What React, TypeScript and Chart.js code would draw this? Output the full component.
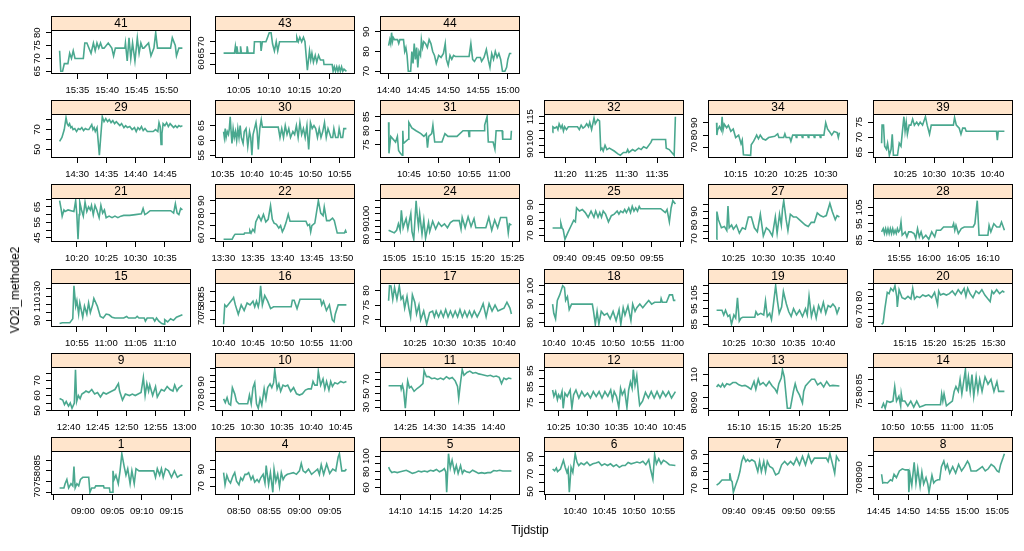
import { useEffect, useRef } from "react";
import { Chart, LineController, LineElement, PointElement, LinearScale } from "chart.js";

Chart.register(LineController, LineElement, PointElement, LinearScale);

const FAMILY = "'Liberation Sans', Arial, sans-serif";
Chart.defaults.font.family = FAMILY;
Chart.defaults.color = "#000";

// layout of the lattice (px)
const COL_X = [51, 215, 380, 544, 708, 873];
const ROW_Y = [16, 100, 184, 269, 353, 437];
const BOX_W = 140;
const STRIP_H = 14;
const PLOT_H = 44;
const YW = 30;
const XH = 26;
const RP = 18;
const TICK_FONT = 9.5;
const LINE = "#4aa88f";
const STRIP_BG = "#ffe5cc";
const PAD = 0.07;

// series: [minutes after start, VO2i]
const S41 = [[0,73],[0.2,65],[0.5,65],[0.8,68],[1.4,68],[1.7,72],[2.0,70],[2.3,73],[2.6,70],[4.0,70],[4.25,76],[4.6,76],[5.3,72],[5.7,76],[6.0,73],[6.3,76],[6.6,74],[6.9,76],[7.2,74],[7.5,74],[8.2,76],[8.8,74],[9.1,71],[9.4,74],[11.0,74],[11.1,76],[11.4,69],[11.7,78],[12.0,70],[12.3,76],[12.7,69],[13.1,78],[13.4,72],[13.7,76],[14.0,74],[14.2,74],[15.0,76],[15.4,71],[15.9,74],[16.2,80],[16.5,74],[18.7,74],[19.0,78],[19.5,75],[19.7,71],[20.1,74],[20.7,74]];
const S43 = [[0.5,65],[2.3,65],[2.45,68],[2.6,65],[2.7,68],[2.85,65],[3.25,65],[3.3,68],[3.45,65],[4.35,65],[4.4,68],[4.55,65],[5.5,65],[5.6,70],[6.6,70],[6.7,66],[6.9,70],[7.5,70],[8.05,74],[8.35,74],[8.6,69],[8.9,66],[9.2,70],[9.45,66],[9.75,70],[12.5,70],[12.6,72],[12.85,70],[13.1,72],[13.4,70],[13.7,72],[13.95,70],[14.35,57.5],[14.7,66],[14.9,62],[15.1,65],[15.35,61],[15.65,64],[15.9,61],[16.2,64],[16.5,62],[17.0,62],[17.1,60],[18.45,60],[18.6,57],[18.8,59],[19.0,57],[19.2,59],[19.4,57],[19.6,59],[19.8,57],[20.0,59],[20.2,57],[20.4,58],[20.8,57]];
const S44 = [[0,83],[0.2,86],[0.35,84],[0.5,89.5],[0.65,85],[0.8,87],[1.0,86],[1.5,86],[1.7,84],[1.9,86],[2.5,86],[2.7,80],[2.9,82],[3.1,78],[3.3,70],[3.7,70],[3.9,80],[4.1,74],[4.3,84],[4.5,76],[4.7,82],[4.9,72],[5.1,80],[5.35,78],[5.5,86],[5.7,82],[5.9,85],[6.2,84],[6.5,82],[6.8,86],[7.1,84],[7.4,80],[7.7,78],[8.0,74],[8.4,78],[8.8,77],[9.2,79],[9.5,84],[9.7,76],[10.0,73],[10.3,78],[10.6,76],[10.9,78],[11.2,77.5],[13.5,77.5],[13.8,84],[14.1,76],[14.4,75],[14.8,77],[15.4,77],[15.6,75],[16.0,77],[16.4,81],[16.7,76],[17.0,72],[17.3,79],[17.6,76],[17.9,80],[18.2,77],[18.5,79],[18.8,76],[19.1,70],[19.5,70],[19.8,72],[20.0,76],[20.3,79],[20.6,79]];
const S29 = [[0,58],[0.4,62],[0.8,70],[1.1,82],[1.3,76],[1.5,74],[1.7,76],[1.9,72],[2.1,73],[2.3,70],[2.6,71],[2.9,68],[3.2,71],[3.5,70],[3.8,72],[4.1,69],[4.4,71],[4.7,70],[5.0,70],[5.3,73],[5.5,75],[5.7,70],[5.9,72],[6.1,68],[6.4,72],[6.8,44],[7.0,60],[7.3,83],[7.6,78],[7.9,81],[8.2,78],[8.5,80],[8.8,77],[9.1,79],[9.4,76],[9.7,78],[10.0,76],[10.3,74],[10.6,76],[11.0,72],[11.3,74],[11.6,72],[12.0,73],[12.4,70],[12.8,72],[13.1,68],[13.4,72],[13.7,70],[14.0,73],[14.3,69],[14.6,71],[15.0,68],[16.0,68],[16.4,70],[16.8,68],[17.0,77],[17.2,73],[17.35,55],[17.5,66],[17.7,76],[18.0,74],[18.3,77],[18.6,73],[18.9,76],[19.2,74],[19.5,72],[19.8,74],[20.1,72],[20.4,74],[20.7,73],[21.0,74]];
const S30 = [[0.17,63],[0.3,61],[0.45,64],[0.6,61],[0.8,63],[1.0,62],[1.15,64],[1.3,68],[1.45,63],[1.6,59],[1.8,64],[2.0,61],[2.2,63],[2.4,60],[2.6,64],[2.8,61],[3.0,65],[3.2,61],[3.5,59],[3.7,63],[4.0,64],[4.3,58],[4.6,63],[4.8,61],[5.0,55],[5.2,62],[5.45,64],[5.7,66],[5.9,63],[6.1,57],[6.35,64],[6.6,67],[6.8,64.5],[9.5,64.5],[9.8,61],[10.1,64],[10.4,61],[10.7,65],[11.0,62],[11.3,64],[11.6,61],[12.0,63],[12.3,62],[12.6,65],[12.9,61],[13.2,66],[13.5,62],[13.8,64],[14.1,61],[14.4,65],[14.7,57],[15.0,66],[15.3,64],[15.6,65],[15.9,64],[16.2,61],[16.5,64],[16.8,61],[17.1,63],[17.4,66],[17.7,61],[18.0,64],[18.5,61],[18.8,61],[19.0,64],[19.3,61],[19.7,61],[19.9,64],[20.2,61],[20.5,61],[20.7,64],[21.14,64]];
const S31 = [[0.64,83],[0.7,72],[1.0,78],[1.8,76],[2.1,78],[2.3,73],[2.6,72],[2.9,71.3],[3.0,80],[3.1,75.5],[3.9,77],[4.0,83],[4.5,81],[5.2,80],[6.0,79],[6.5,78],[6.9,79],[7.1,74],[7.3,78],[7.8,79],[8.0,82],[8.3,76],[9.5,76],[10.0,79],[10.5,78],[12.0,78],[13.0,80],[13.9,80],[14.0,78],[14.1,80],[16.5,80],[16.6,82],[17.0,85],[17.2,76],[18.0,76],[18.3,73.5],[18.5,80],[19.5,80],[19.6,77],[20.95,77],[21.04,80]];
const S32 = [[0.93,104],[0.98,108],[1.3,107],[1.6,108],[1.8,106],[2.0,110],[2.3,107],[2.5,109],[2.7,105],[2.9,108],[3.2,106],[3.5,108],[5.0,108],[5.3,106],[5.6,109],[5.9,107],[6.2,108],[6.5,110],[6.8,108],[7.0,111],[7.3,106],[7.6,112],[7.7,114],[7.9,110],[8.3,113],[8.6,112],[8.8,92],[9.0,93],[9.2,91],[9.5,95],[9.8,92],[10.2,93],[11.0,91],[11.6,89],[12.0,88],[12.5,90],[13.0,90],[13.2,92],[13.4,90],[14.0,92],[14.4,91],[15.0,93],[15.4,92],[15.8,94],[16.3,93],[17.0,97],[17.2,99],[19.4,99],[19.5,93],[20.0,92],[20.8,88],[21.0,115]];
const S34 = [[0.83,90],[0.88,80],[1.0,84],[1.3,87],[1.6,84],[1.75,95],[1.9,84],[2.1,89],[2.5,86],[2.8,88],[3.2,83],[3.6,85],[4.0,78],[4.5,80],[4.9,73],[5.1,76],[5.3,64],[6.5,63.5],[6.6,72],[7.0,75],[7.3,78],[7.5,80],[7.8,77],[8.1,80],[8.5,77],[9.0,76],[9.5,78],[10.5,79],[11.0,81],[11.2,78],[12.0,78],[12.2,81],[12.4,78],[13.0,78],[13.2,75],[13.5,80],[14.0,80],[14.1,78],[14.2,80],[15.0,80],[15.1,78],[15.2,80],[16.0,80],[16.1,78],[16.2,80],[17.0,80],[17.1,78],[17.2,80],[18.0,80],[18.1,78],[18.2,80],[18.7,80],[19.0,90],[19.3,85],[19.6,83],[20.0,80],[20.4,83],[20.9,82],[21.1,78],[21.28,82]];
const S39 = [[0.97,68],[1.05,74],[1.3,74],[1.5,67],[1.8,66],[2.0,68],[2.3,64],[2.6,66],[2.8,71],[3.0,64],[3.7,64],[4.0,68],[4.3,67],[4.5,71],[4.8,76.8],[5.0,72],[5.2,75],[5.4,71],[5.7,74],[6.0,74],[6.3,76],[6.6,74],[7.0,75],[7.3,74],[7.6,75],[8.0,74],[8.5,76.8],[8.8,74],[9.2,71],[9.5,74],[13.3,74],[13.5,76.5],[13.8,74],[14.3,73],[14.6,71],[14.9,73],[15.3,73],[15.5,72],[20.7,72],[20.85,69],[21.0,72],[22.06,72]];
const S21 = [[0.06,69],[0.3,64],[0.5,59],[0.8,63],[1.0,62],[1.5,63],[2.5,62],[2.8,69],[3.0,60],[3.2,44],[3.4,60],[3.5,68],[3.8,63],[4.1,59],[4.4,68],[4.7,62],[5.0,65],[5.3,63],[5.5,66],[5.8,60],[6.1,66],[6.4,63],[6.8,58],[7.1,66],[7.4,61],[7.7,63],[8.0,58],[8.5,59],[9.0,58],[9.5,59],[10.0,58],[10.5,59],[11.0,59.5],[12.0,59.5],[13.0,60],[14.0,60.5],[14.3,64],[14.6,60],[15.0,61],[15.5,62.5],[19.0,62.5],[19.5,61],[19.8,67],[20.1,61],[20.4,60],[20.7,64],[21.0,63]];
const S22 = [[0.05,59],[1.5,59],[1.7,61],[1.9,62.5],[2.0,63],[3.5,63],[3.6,64],[4.4,64],[4.5,66],[4.7,64],[5.0,67],[5.3,65],[5.5,73],[6.0,78],[6.4,74],[6.8,79],[7.2,73],[7.6,75],[8.0,86],[8.3,75],[8.6,72],[9.0,71],[9.4,68],[9.7,70],[10.0,65],[10.3,68],[10.6,72],[11.0,79],[11.3,73.5],[14.0,73.5],[14.3,70],[14.6,71],[14.8,65],[15.0,70],[15.5,72],[16.1,90],[16.5,80],[16.9,78],[17.1,85],[17.5,74],[18.0,74],[18.5,76],[18.8,74],[19.0,70],[19.3,64],[20.5,64],[20.7,66],[20.85,64]];
const S24 = [[0.04,87],[0.5,86],[1.0,85],[1.4,87],[1.7,92],[2.0,87],[2.2,102.5],[2.5,89],[2.7,92],[3.0,96],[3.3,88],[3.5,93],[3.8,100],[4.0,86],[4.3,80],[4.5,95],[4.7,110],[4.9,98],[5.1,90],[5.3,100],[5.7,84],[6.0,95],[6.3,81],[6.6,88],[6.8,93],[7.0,86],[7.5,94],[8.0,88],[8.5,93],[9.0,90],[9.5,92],[10.0,89],[10.5,93],[11.0,94.5],[12.0,94.5],[12.3,88],[12.5,97],[13.0,89],[13.5,97.5],[14.0,90],[14.5,96],[14.8,89],[16.5,89],[17.0,97],[17.5,87],[18.0,95],[18.5,89],[19.0,97],[20.0,97],[20.3,85],[20.5,92],[20.83,91]];
const S25 = [[0.87,75],[2.2,75],[2.3,78],[2.5,75],[2.7,74],[3.0,67.7],[3.5,72],[4.0,76],[4.5,80],[4.8,79],[5.0,88],[5.5,86],[6.0,87],[6.5,85],[7.0,82],[7.5,86],[8.0,82],[8.3,86],[8.7,82],[9.0,85],[9.3,82],[9.6,86],[10.0,84],[10.5,79],[11.0,83],[11.5,84],[12.0,86],[12.3,84],[12.6,86],[13.0,85],[13.3,87],[13.6,85],[14.0,88],[14.3,85],[14.6,89],[14.9,86],[15.2,88],[15.5,86],[15.8,89],[16.0,87.5],[19.5,87.5],[20.0,86],[20.3,85],[20.6,87],[21.0,79],[21.3,88],[21.6,92.7],[22.04,90.5]];
const S27 = [[0.2,69.5],[0.25,90],[0.5,84],[1.0,78],[1.5,79],[1.9,76],[2.1,94],[2.3,78],[2.7,80],[3.0,77],[3.5,80],[4.0,74],[4.5,78],[5.0,77],[5.5,86],[6.0,86],[6.5,78],[7.0,75],[7.5,88],[8.0,72],[8.5,78],[9.0,76],[9.5,72],[10.0,86],[10.3,74],[10.7,88],[11.0,80],[11.2,92],[11.4,98],[11.8,84],[12.1,76],[12.5,88],[13.0,86],[13.5,86],[14.0,84],[14.5,82],[15.0,80],[15.5,79],[16.0,82],[16.5,82],[17.0,89],[17.5,87],[18.0,86],[18.5,87],[19.1,96],[19.5,90],[20.0,84],[20.3,87],[20.69,86]];
const S28 = [[0.02,90],[0.3,92],[0.5,89],[0.7,92],[0.9,89],[1.1,92],[1.3,89],[1.5,92],[1.7,89],[1.9,92],[2.1,89],[2.3,91],[2.5,89],[2.7,92],[2.9,90],[3.1,91],[3.3,96],[3.5,88],[4.0,90],[4.3,87],[4.6,90],[5.0,90],[5.5,89],[5.8,86],[6.1,92],[6.4,87],[6.7,90],[7.0,86],[7.5,88],[8.0,85.5],[8.5,90],[9.0,87],[9.3,91],[10.0,91],[10.5,93],[12.0,93],[12.2,95],[12.4,91],[12.6,94],[13.0,89],[13.5,92],[14.0,93],[15.5,93],[15.8,95],[16.2,109],[16.5,88],[18.0,88],[18.2,94],[18.5,90],[19.0,95],[19.5,93],[20.0,93],[20.3,96],[20.79,91]];
const S15 = [[0.05,86],[0.5,87],[1.8,87],[2.0,89],[2.3,92],[2.5,134],[2.8,108],[3.0,115],[3.3,98],[3.5,112],[4.0,94],[4.3,108],[4.7,98],[5.0,112],[5.3,100],[5.7,110],[5.9,118],[6.5,108],[7.0,95],[7.5,93],[8.0,98],[8.5,97],[9.0,94],[9.5,93],[11.0,93],[11.5,95],[11.8,93],[13.0,93],[13.3,95],[13.6,93],[14.5,93],[14.7,89],[15.0,93],[16.0,93],[16.3,89],[16.6,93],[17.0,89],[17.5,86],[17.9,85],[18.0,91],[18.5,88],[19.0,92],[19.5,90],[20.0,94],[21.02,97]];
const S16 = [[0,67.6],[0.2,78],[0.5,77],[1.0,79],[1.5,81],[1.7,82],[2.0,78],[2.5,73],[3.0,78],[3.5,75],[4.0,79],[4.5,78],[5.0,80],[5.3,77],[5.6,80],[5.9,77],[6.1,80],[6.3,88.3],[6.6,78],[7.0,83],[7.5,80],[8.0,76],[8.5,77],[9.0,77],[11.5,77],[11.7,80.5],[12.0,80.5],[12.5,76],[13.0,81],[16.5,81],[16.7,78],[17.0,80],[17.5,75],[18.0,78],[18.5,70],[18.8,69],[19.0,73],[19.5,78],[20.9,78]];
const S17 = [[0.6,76.5],[0.75,81.6],[1.0,81.5],[1.3,77],[1.6,81],[2.0,77],[2.4,81.5],[2.7,77],[3.0,78],[3.3,74],[3.7,78],[4.0,74],[4.3,71],[4.6,78.5],[5.0,76],[5.3,72],[5.7,75],[6.0,70],[6.5,73],[7.0,68.5],[7.5,72.5],[8.0,73],[8.3,71],[8.6,73],[9.0,71],[9.4,73],[9.8,71],[10.2,73.5],[10.6,71],[11.0,73],[11.4,71],[11.8,73],[12.2,71],[12.6,73.5],[13.0,71],[13.4,73],[13.8,71],[14.2,73],[14.6,71],[15.0,73],[15.5,71],[16.0,73],[16.5,75.5],[17.0,71],[17.5,75.5],[18.0,73],[18.5,75],[19.0,73],[19.5,73.5],[20.0,74],[20.5,76],[21.0,74],[21.25,72]];
const S18 = [[0.8,90],[1.0,85],[1.3,82],[1.6,92],[2.0,95],[2.3,98],[2.5,100],[2.8,99],[3.0,92],[3.3,94],[3.6,87],[4.0,90],[7.5,90],[7.7,86],[8.0,79],[8.3,86],[8.6,79],[9.0,86],[9.5,84],[10.0,85],[10.5,82],[11.0,86],[11.5,81],[12.0,87],[12.3,79],[12.7,88],[13.0,84],[13.5,89],[14.0,81],[14.3,90],[14.7,86],[15.0,88],[15.5,90],[16.0,88],[16.5,90],[17.0,92],[17.5,90],[18.0,91],[19.0,91],[19.1,93],[19.3,91],[20.0,91],[20.5,95],[21.0,95],[21.2,92],[21.5,92]];
const S19 = [[0.1,94],[1.0,94],[1.3,91],[1.6,94],[2.0,90],[2.3,91],[2.6,85],[3.0,91],[3.3,89],[3.6,102],[3.9,87],[4.2,89],[4.5,89.5],[6.5,89.5],[6.7,93],[7.0,91],[7.5,92],[8.0,91],[8.3,100],[8.6,90],[9.0,92],[9.3,88],[9.6,97],[10.0,109.7],[10.3,100],[10.6,92],[11.0,96],[11.3,106],[11.8,98],[12.2,93],[12.6,90],[13.0,95],[13.5,91],[14.0,94],[14.5,90],[15.0,95],[15.3,91],[15.6,103],[16.0,90],[16.4,96],[16.8,89],[17.2,97],[17.6,93],[18.0,99],[18.4,92],[18.8,97],[19.2,96],[19.6,98],[20.0,96],[20.3,92],[20.69,96]];
const S20 = [[0.04,59],[0.3,60],[0.6,71],[1.0,83],[1.3,82],[1.6,86],[2.0,84],[2.3,88],[2.6,80],[2.7,72],[3.0,85],[3.5,79],[4.0,78],[4.5,80],[5.0,78],[5.3,86],[5.6,78],[6.0,80],[6.5,79],[7.0,81],[7.5,80],[8.0,81],[8.5,79],[9.0,83],[9.5,74],[9.7,84],[10.0,81],[10.5,82],[11.0,81],[11.5,82],[12.0,84],[12.5,81],[13.0,85],[13.5,82],[14.0,86],[14.3,80],[14.6,86],[15.0,82],[15.5,79],[16.0,84],[16.5,82],[17.0,85],[17.5,81],[18.4,76],[18.7,84],[19.0,82],[19.5,85],[20.0,82],[20.5,84],[20.81,83]];
const S9 = [[0.46,58],[1.0,57],[1.3,54],[1.6,56],[2.0,53],[2.3,55],[2.6,51.5],[3.0,55],[3.2,77.2],[3.4,56],[3.7,60],[4.0,58],[4.3,61],[4.7,62],[5.0,63],[5.5,62],[6.0,64],[6.5,61],[7.0,62],[7.5,59],[8.0,62],[8.5,61],[9.0,62],[9.5,63],[10.0,64],[10.6,68],[10.8,63],[11.3,57],[11.8,61],[12.5,60],[13.0,61],[13.5,60],[14.0,61],[14.5,62],[14.9,72],[15.2,60],[15.5,68],[15.8,63],[16.0,67],[16.5,60],[17.0,66],[17.3,59],[17.7,62],[18.0,64],[18.5,63],[19.0,66],[19.5,64],[20.0,63],[20.3,67],[20.7,63],[21.0,65],[21.63,67]];
const S10 = [[0.11,76],[0.4,73],[0.7,77],[1.0,72],[1.3,71],[1.6,85],[2.0,80],[2.3,74],[2.7,72],[3.5,72],[4.2,72],[4.5,79],[4.8,72],[5.1,85],[5.4,89],[5.7,72],[6.0,68.4],[6.3,76],[6.6,71],[7.0,84],[7.3,76],[7.6,85],[8.0,88],[8.3,85],[8.6,89],[8.8,99.4],[9.2,84],[9.5,88],[9.8,82],[10.2,87],[10.6,86],[11.0,87],[11.5,82],[12.0,85],[12.5,80],[13.0,79],[13.5,80],[14.0,83],[14.5,84],[15.0,84],[15.3,90],[15.6,87],[16.0,87],[16.2,98],[16.6,87],[17.0,92],[17.3,84],[17.6,90],[18.0,83],[18.3,90],[18.6,86],[19.0,89],[19.5,88],[20.0,90],[20.5,89],[20.97,90]];
const S11 = [[0.15,61],[2.2,61],[2.3,56],[2.5,62],[2.7,55],[3.0,28.6],[3.2,50],[3.4,68],[3.7,58],[4.0,60],[4.5,53],[5.0,57],[5.5,60],[6.0,64],[6.2,82.6],[6.6,74],[7.0,74],[7.5,71],[8.0,72],[8.5,70],[9.0,72],[9.5,70],[10.0,74],[10.5,71],[11.0,73],[11.5,68],[11.9,60],[12.1,43],[12.4,65],[12.7,84],[13.0,76],[13.5,80],[14.0,82],[14.5,79],[15.0,80],[15.5,78],[16.0,77],[16.5,76],[17.0,75],[17.5,76],[18.0,74],[18.5,75],[19.0,73],[19.4,64],[19.8,72],[20.2,70],[20.6,72],[21.08,71]];
const S12 = [[0.97,83],[1.2,79],[1.5,82],[1.8,77],[2.0,80],[2.3,78],[2.6,82],[2.8,71.6],[3.1,81],[3.5,79],[4.0,83],[4.3,71.6],[4.6,80],[5.0,83],[5.5,78],[6.0,82],[6.5,79],[7.0,81],[7.5,78],[8.0,82],[8.5,79],[9.0,82],[9.5,78],[10.0,82],[10.5,79],[11.0,83],[11.3,77],[11.6,82],[12.0,79],[12.4,72],[12.7,84],[13.0,80],[13.4,83],[13.8,72],[14.1,83],[14.4,88],[14.7,84],[14.9,95.6],[15.2,86],[15.5,92],[15.8,80],[16.0,73.5],[16.5,76],[17.0,81.5],[17.5,78],[18.0,82],[18.5,78],[19.0,82],[19.5,78],[20.0,82],[20.5,79],[21.0,82],[21.5,78],[22.17,82]];
const S13 = [[0.32,99],[0.6,101],[1.0,99],[1.3,102],[1.6,99],[2.0,102],[2.5,101],[3.0,103],[3.5,103],[4.0,101],[4.5,100],[5.0,100.5],[5.5,99],[6.0,97],[6.5,104],[6.8,97],[7.2,106],[7.5,101],[8.0,103],[8.5,100],[9.0,104],[9.5,100],[10.0,97],[10.3,94],[10.6,102],[11.0,107],[11.2,114.5],[11.5,108],[11.8,91],[12.0,80],[12.5,80],[13.0,95],[13.3,102],[13.6,96],[14.0,92],[14.5,84.7],[14.7,95],[15.0,100],[15.5,103],[16.0,106],[16.5,106],[17.0,101],[17.5,103],[18.0,99],[18.5,104],[19.0,100],[19.5,100.5],[20.6,100]];
const S14 = [[0.09,73],[0.4,75],[0.7,73],[1.0,76],[1.5,75.5],[2.0,76],[2.3,82],[2.6,76],[3.0,78],[3.3,74],[3.4,79],[3.6,76],[4.0,76],[4.5,74],[5.0,76],[5.5,73.5],[6.0,76],[6.5,73.5],[7.0,74],[7.5,74.5],[10.0,74.5],[10.2,79],[10.4,76],[10.6,79],[11.0,74],[11.5,75],[12.0,76],[12.3,80],[12.6,82],[13.0,80],[13.3,85],[13.6,79],[14.2,89],[14.4,80],[14.7,86],[15.0,80],[15.3,87],[15.6,78],[16.0,86],[16.3,80],[16.6,85],[17.0,80],[17.5,86],[18.0,83],[18.5,85],[19.0,80],[19.5,84],[19.8,80],[20.76,80]];
const S1 = [[0.07,72],[0.8,72],[1.0,74],[1.3,76],[1.6,72],[2.0,74],[2.3,73],[2.5,82],[2.7,72],[3.0,74],[3.3,73],[3.6,76],[4.0,77],[5.0,77],[5.2,70],[5.5,72],[6.0,72],[6.2,73],[7.5,73],[7.6,72],[8.5,72],[8.6,70],[9.0,70],[9.1,80],[9.3,76],[9.6,78],[10.0,74],[10.3,80],[10.6,88],[11.0,82],[11.3,78],[11.6,81],[12.0,74],[12.3,80],[12.7,74],[13.0,81],[13.5,80],[16.0,80],[16.3,77],[16.6,81],[17.0,78],[17.3,81],[17.6,77],[18.0,81],[18.5,80],[19.0,77],[19.5,80],[20.0,77],[20.5,78],[20.85,78]];
const S4 = [[0.46,86],[0.7,72],[1.0,83],[1.3,77],[1.6,74],[2.0,82],[2.3,86],[2.6,76],[3.0,72],[3.3,80],[3.6,77],[4.0,84],[4.3,84],[4.6,86],[5.0,78],[5.3,82],[5.6,75],[6.0,78],[6.3,75],[6.6,80],[7.0,84],[7.3,74],[7.5,94],[7.9,72],[8.2,86],[8.6,63.3],[8.8,90],[9.1,76],[9.4,84],[9.7,70],[10.0,86],[10.3,78],[10.6,82],[11.0,84],[11.5,85],[12.0,86],[12.5,84],[13.0,88],[13.3,96.7],[13.6,88],[14.0,86],[14.5,90],[15.0,84],[15.5,87],[16.0,90],[16.3,84],[16.6,95],[17.0,84],[17.5,96],[18.0,85],[18.5,90],[19.0,88],[19.4,104],[19.6,107.8],[20.0,88],[20.5,88],[20.76,90]];
const S5 = [[0.06,86],[0.3,82],[0.6,79],[1.0,80],[1.5,79],[2.0,80],[2.5,81],[3.0,82],[3.5,80],[4.0,78],[4.5,79],[5.0,81],[5.5,80],[6.0,81],[6.5,80],[7.0,82],[7.5,81],[8.0,83],[8.5,80],[9.0,82],[9.3,84],[9.55,80],[9.7,54],[10.0,103],[10.3,85],[10.6,94.8],[11.0,80],[11.3,88],[11.6,78],[12.0,88],[12.3,78],[12.6,82],[13.0,80],[13.5,79],[14.0,82],[14.5,80],[15.0,78],[15.5,79],[16.0,78],[16.5,79],[17.0,79],[17.5,81.6],[18.0,81],[18.5,82],[19.0,81],[20.44,81]];
const S6 = [[0.16,76],[0.5,74],[0.8,77],[1.0,73],[1.5,76],[2.0,86],[2.3,78],[2.6,72],[2.8,76],[3.0,49],[3.3,78],[3.6,72],[4.0,93.7],[4.3,84],[4.6,80],[5.0,83],[5.5,81],[6.0,84],[6.5,80],[7.0,82],[7.5,83],[8.0,84.2],[8.5,80],[9.0,82],[9.5,80],[10.0,82],[10.5,79],[11.0,81],[11.5,77.9],[12.0,80],[12.5,80],[13.0,83.5],[13.5,82],[14.0,83],[14.5,84],[15.0,83],[15.5,85],[16.0,81],[16.5,86.8],[16.8,76],[17.2,64.4],[17.5,92.8],[17.8,82],[18.2,88],[18.6,82],[19.0,86],[19.5,84],[20.0,81],[21.03,80]];
const S7 = [[0.09,72],[0.5,73],[1.0,75],[2.2,75],[2.3,79],[2.5,75],[2.7,74],[2.9,67.7],[3.3,72],[3.7,76],[4.0,80],[4.3,86],[4.6,89],[5.0,86],[5.3,87.2],[5.6,86],[6.0,87],[6.5,86],[7.0,80],[7.3,86],[7.6,80],[8.0,86],[8.3,80],[8.6,86],[9.0,83],[9.5,82],[10.0,78],[10.5,79],[11.0,84],[11.5,86],[12.0,84],[12.5,86],[13.0,84],[13.5,88],[14.0,84],[14.5,89],[15.0,84],[15.5,90],[16.0,85],[16.5,88],[18.5,88],[18.8,86],[19.1,90.6],[19.5,85],[19.9,79],[20.2,89],[20.69,86]];
const S8 = [[0.5,83],[0.7,75],[1.0,75.5],[1.5,75],[2.0,78],[2.3,77],[2.6,83],[3.0,80],[3.5,86],[4.0,88],[4.5,87],[5.0,87],[5.1,66.5],[5.3,83],[5.6,73],[6.0,94],[6.3,75],[6.6,88],[7.0,72],[7.3,85],[7.6,74],[8.0,80],[8.3,74],[8.5,66.5],[9.0,82],[9.3,75],[9.6,77],[10.0,78],[10.3,78],[10.6,90],[11.0,95],[11.3,88],[11.6,92],[12.0,84],[12.5,90],[13.0,84],[13.5,92],[14.0,86],[14.5,90],[15.0,95],[15.3,92],[15.6,86],[16.0,86],[16.5,86],[17.0,88],[17.5,90],[18.0,86],[18.5,88],[19.0,92],[19.5,90],[20.0,86],[20.3,85],[20.6,92],[21.0,98],[21.23,101.8]];

type Panel = {
  id: string;
  start: string;
  series: number[][];
  yTicks: number[];
  yShow: number[];
  hide?: string[];
};

const PANELS: Panel[] = [
  { id: "41", start: "15:32", series: S41, yTicks: [65, 70, 75, 80], yShow: [65, 70, 75, 80] },
  { id: "43", start: "10:02", series: S43, yTicks: [60, 65, 70], yShow: [60, 65, 70] },
  { id: "44", start: "14:40", series: S44, yTicks: [70, 80, 90], yShow: [70, 80, 90] },
  { id: "29", start: "14:27", series: S29, yTicks: [50, 60, 70, 80], yShow: [50, 70] },
  { id: "30", start: "10:35", series: S30, yTicks: [55, 60, 65], yShow: [55, 60, 65] },
  { id: "31", start: "10:41", series: S31, yTicks: [75, 80, 85], yShow: [75, 80, 85] },
  { id: "32", start: "11:17", series: S32, yTicks: [90, 95, 100, 105, 110, 115], yShow: [90, 100, 115] },
  { id: "34", start: "10:11", series: S34, yTicks: [70, 80, 90], yShow: [70, 80, 90] },
  { id: "39", start: "10:20", series: S39, yTicks: [65, 70, 75], yShow: [65, 70, 75] },
  { id: "21", start: "10:17", series: S21, yTicks: [45, 50, 55, 60, 65, 70], yShow: [45, 55, 65] },
  { id: "22", start: "13:30", series: S22, yTicks: [60, 70, 80, 90], yShow: [60, 70, 80, 90] },
  { id: "24", start: "15:04", series: S24, yTicks: [80, 85, 90, 95, 100, 105, 110], yShow: [80, 90, 100] },
  { id: "25", start: "09:37", series: S25, yTicks: [70, 75, 80, 85, 90], yShow: [70, 80, 90] },
  { id: "27", start: "10:22", series: S27, yTicks: [70, 75, 80, 85, 90, 95], yShow: [70, 80, 90] },
  { id: "28", start: "15:52", series: S28, yTicks: [85, 90, 95, 100, 105], yShow: [85, 95, 105] },
  { id: "15", start: "10:52", series: S15, yTicks: [90, 100, 110, 120, 130], yShow: [90, 110, 130] },
  { id: "16", start: "10:40", series: S16, yTicks: [70, 75, 80, 85], yShow: [70, 75, 80, 85] },
  { id: "17", start: "10:20", series: S17, yTicks: [70, 75, 80], yShow: [70, 75, 80], hide: ["10:20"] },
  { id: "18", start: "10:39", series: S18, yTicks: [80, 85, 90, 95, 100], yShow: [80, 90, 100] },
  { id: "19", start: "10:22", series: S19, yTicks: [85, 90, 95, 100, 105, 110], yShow: [85, 95, 105] },
  { id: "20", start: "15:11", series: S20, yTicks: [60, 65, 70, 75, 80, 85, 90], yShow: [60, 70, 80] },
  { id: "9", start: "12:38", series: S9, yTicks: [50, 55, 60, 65, 70, 75], yShow: [50, 60, 70] },
  { id: "10", start: "10:25", series: S10, yTicks: [70, 75, 80, 85, 90, 95, 100], yShow: [70, 80, 90] },
  { id: "11", start: "14:22", series: S11, yTicks: [30, 40, 50, 60, 70, 80], yShow: [30, 50, 70] },
  { id: "12", start: "10:23", series: S12, yTicks: [75, 80, 85, 90, 95], yShow: [75, 85, 95] },
  { id: "13", start: "15:06", series: S13, yTicks: [80, 90, 100, 110], yShow: [80, 90, 110] },
  { id: "14", start: "10:48", series: S14, yTicks: [75, 80, 85, 90], yShow: [75, 80, 85] },
  { id: "1", start: "08:56", series: S1, yTicks: [70, 75, 80, 85], yShow: [70, 75, 80, 85] },
  { id: "4", start: "08:47", series: S4, yTicks: [70, 80, 90, 100], yShow: [70, 90] },
  { id: "5", start: "14:08", series: S5, yTicks: [60, 70, 80, 90, 100], yShow: [60, 80, 100] },
  { id: "6", start: "10:36", series: S6, yTicks: [50, 60, 70, 80, 90], yShow: [50, 70, 90] },
  { id: "7", start: "09:37", series: S7, yTicks: [70, 75, 80, 85, 90], yShow: [70, 80, 90] },
  { id: "8", start: "14:45", series: S8, yTicks: [70, 80, 90, 100], yShow: [70, 80, 90] },
];

// lattice rows, top to bottom
const ROWS = [
  ["41", "43", "44"],
  ["29", "30", "31", "32", "34", "39"],
  ["21", "22", "24", "25", "27", "28"],
  ["15", "16", "17", "18", "19", "20"],
  ["9", "10", "11", "12", "13", "14"],
  ["1", "4", "5", "6", "7", "8"],
];

const hm = (s: string) => {
  const [h, m] = s.split(":").map(Number);
  return h * 60 + m;
};
const clock = (v: number) => {
  const h = Math.floor(v / 60);
  const m = Math.round(v - h * 60);
  return `${String(h).padStart(2, "0")}:${String(m).padStart(2, "0")}`;
};

let measureCtx: CanvasRenderingContext2D | null = null;
const textWidth = (s: string) => {
  if (!measureCtx) measureCtx = document.createElement("canvas").getContext("2d");
  measureCtx!.font = `${TICK_FONT}px ${FAMILY}`;
  return measureCtx!.measureText(s).width;
};

const panelFrame = {
  id: "panelFrame",
  afterDraw(chart: any, _args: any, opts: any) {
    const { ctx, chartArea } = chart;
    const { left, top, right, bottom } = chartArea;
    ctx.save();
    ctx.strokeStyle = "#000";
    ctx.lineWidth = 1;
    ctx.strokeRect(left + 0.5, top + 0.5, right - left - 1, bottom - top - 1);
    ctx.fillStyle = STRIP_BG;
    ctx.fillRect(left, top - STRIP_H, right - left, STRIP_H);
    ctx.strokeRect(left + 0.5, top - STRIP_H + 0.5, right - left - 1, STRIP_H);
    ctx.fillStyle = "#000";
    ctx.font = `12px ${FAMILY}`;
    ctx.textAlign = "center";
    ctx.textBaseline = "middle";
    ctx.fillText(opts.label, (left + right) / 2, top - STRIP_H / 2 + 1);
    ctx.restore();
  },
};

function PanelChart({ p, left, top }: { p: Panel; left: number; top: number }) {
  const ref = useRef<HTMLCanvasElement>(null);

  useEffect(() => {
    if (!ref.current) return;
    const t0 = hm(p.start);
    const pts = p.series.map(([t, v]) => ({ x: t0 + t, y: v }));
    const xs = pts.map((d) => d.x);
    const ys = pts.map((d) => d.y);
    const x0 = Math.min(...xs), x1 = Math.max(...xs);
    const y0 = Math.min(...ys), y1 = Math.max(...ys);
    const xMin = x0 - (x1 - x0) * PAD, xMax = x1 + (x1 - x0) * PAD;
    const yMin = y0 - (y1 - y0) * PAD, yMax = y1 + (y1 - y0) * PAD;

    const xTicks: number[] = [];
    for (let t = Math.ceil(xMin / 5) * 5; t <= xMax; t += 5) xTicks.push(t);
    const yTicks = p.yTicks.filter((v) => v >= yMin && v <= yMax);
    const widest = Math.max(...p.yShow.map((v) => textWidth(String(v))));

    const tickFont = { size: TICK_FONT, family: FAMILY };
    const grid = { drawOnChartArea: false, drawTicks: true, tickLength: 5, color: "#000", tickColor: "#000" };

    const chart = new Chart(ref.current, {
      type: "line",
      data: {
        datasets: [
          {
            data: pts,
            borderColor: LINE,
            borderWidth: 1.6,
            pointRadius: 0,
            tension: 0,
            fill: false,
          },
        ],
      },
      options: {
        responsive: false,
        animation: false,
        events: [],
        layout: { padding: { top: STRIP_H, right: RP, left: 0, bottom: 0 }, autoPadding: false },
        plugins: { panelFrame: { label: p.id } } as any,
        scales: {
          x: {
            type: "linear",
            min: xMin,
            max: xMax,
            bounds: "data",
            border: { display: false },
            grid,
            afterBuildTicks: (s: any) => {
              s.ticks = xTicks.map((value) => ({ value }));
            },
            afterFit: (s: any) => {
              s.height = XH;
              s.paddingLeft = 0;
              s.paddingRight = 0;
            },
            ticks: {
              autoSkip: false,
              maxRotation: 0,
              minRotation: 0,
              padding: 6,
              font: tickFont,
              color: "#000",
              callback: (v: any) => {
                const f = (v - xMin) / (xMax - xMin);
                const lab = clock(v);
                if (f < 0.025 || f > 0.975 || (p.hide && p.hide.includes(lab))) return "";
                return lab;
              },
            },
          },
          y: {
            type: "linear",
            min: yMin,
            max: yMax,
            bounds: "data",
            border: { display: false },
            grid,
            afterBuildTicks: (s: any) => {
              s.ticks = yTicks.map((value) => ({ value }));
            },
            afterFit: (s: any) => {
              s.width = YW;
              s.paddingTop = 0;
              s.paddingBottom = 0;
            },
            ticks: {
              autoSkip: false,
              minRotation: 90,
              maxRotation: 90,
              crossAlign: "center",
              padding: 9 - widest / 2,
              font: tickFont,
              color: "#000",
              callback: (v: any) => (p.yShow.includes(v) ? String(v) : ""),
            },
          },
        },
      },
      plugins: [panelFrame],
    });

    return () => chart.destroy();
  }, [p]);

  const w = YW + BOX_W + RP;
  const h = STRIP_H + PLOT_H + XH;
  return (
    <canvas
      ref={ref}
      width={w}
      height={h}
      style={{ position: "absolute", left: left - YW, top, width: w, height: h }}
    />
  );
}

export default function App() {
  const byId: Record<string, Panel> = {};
  PANELS.forEach((p) => (byId[p.id] = p));

  return (
    <div
      style={{
        position: "fixed",
        left: 0,
        top: 0,
        width: 1024,
        height: 551,
        background: "#fff",
        fontFamily: FAMILY,
        overflow: "hidden",
      }}
    >
      {ROWS.map((row, r) =>
        row.map((id, c) => <PanelChart key={id} p={byId[id]} left={COL_X[c]} top={ROW_Y[r]} />)
      )}
      <div
        style={{
          position: "absolute",
          left: 15,
          top: 290,
          transform: "translate(-50%, -50%) rotate(-90deg)",
          fontSize: 12,
          whiteSpace: "nowrap",
          color: "#000",
        }}
      >
        VO2i_methode2
      </div>
      <div
        style={{
          position: "absolute",
          left: 530,
          top: 530,
          transform: "translate(-50%, -50%)",
          fontSize: 12,
          whiteSpace: "nowrap",
          color: "#000",
        }}
      >
        Tijdstip
      </div>
    </div>
  );
}
